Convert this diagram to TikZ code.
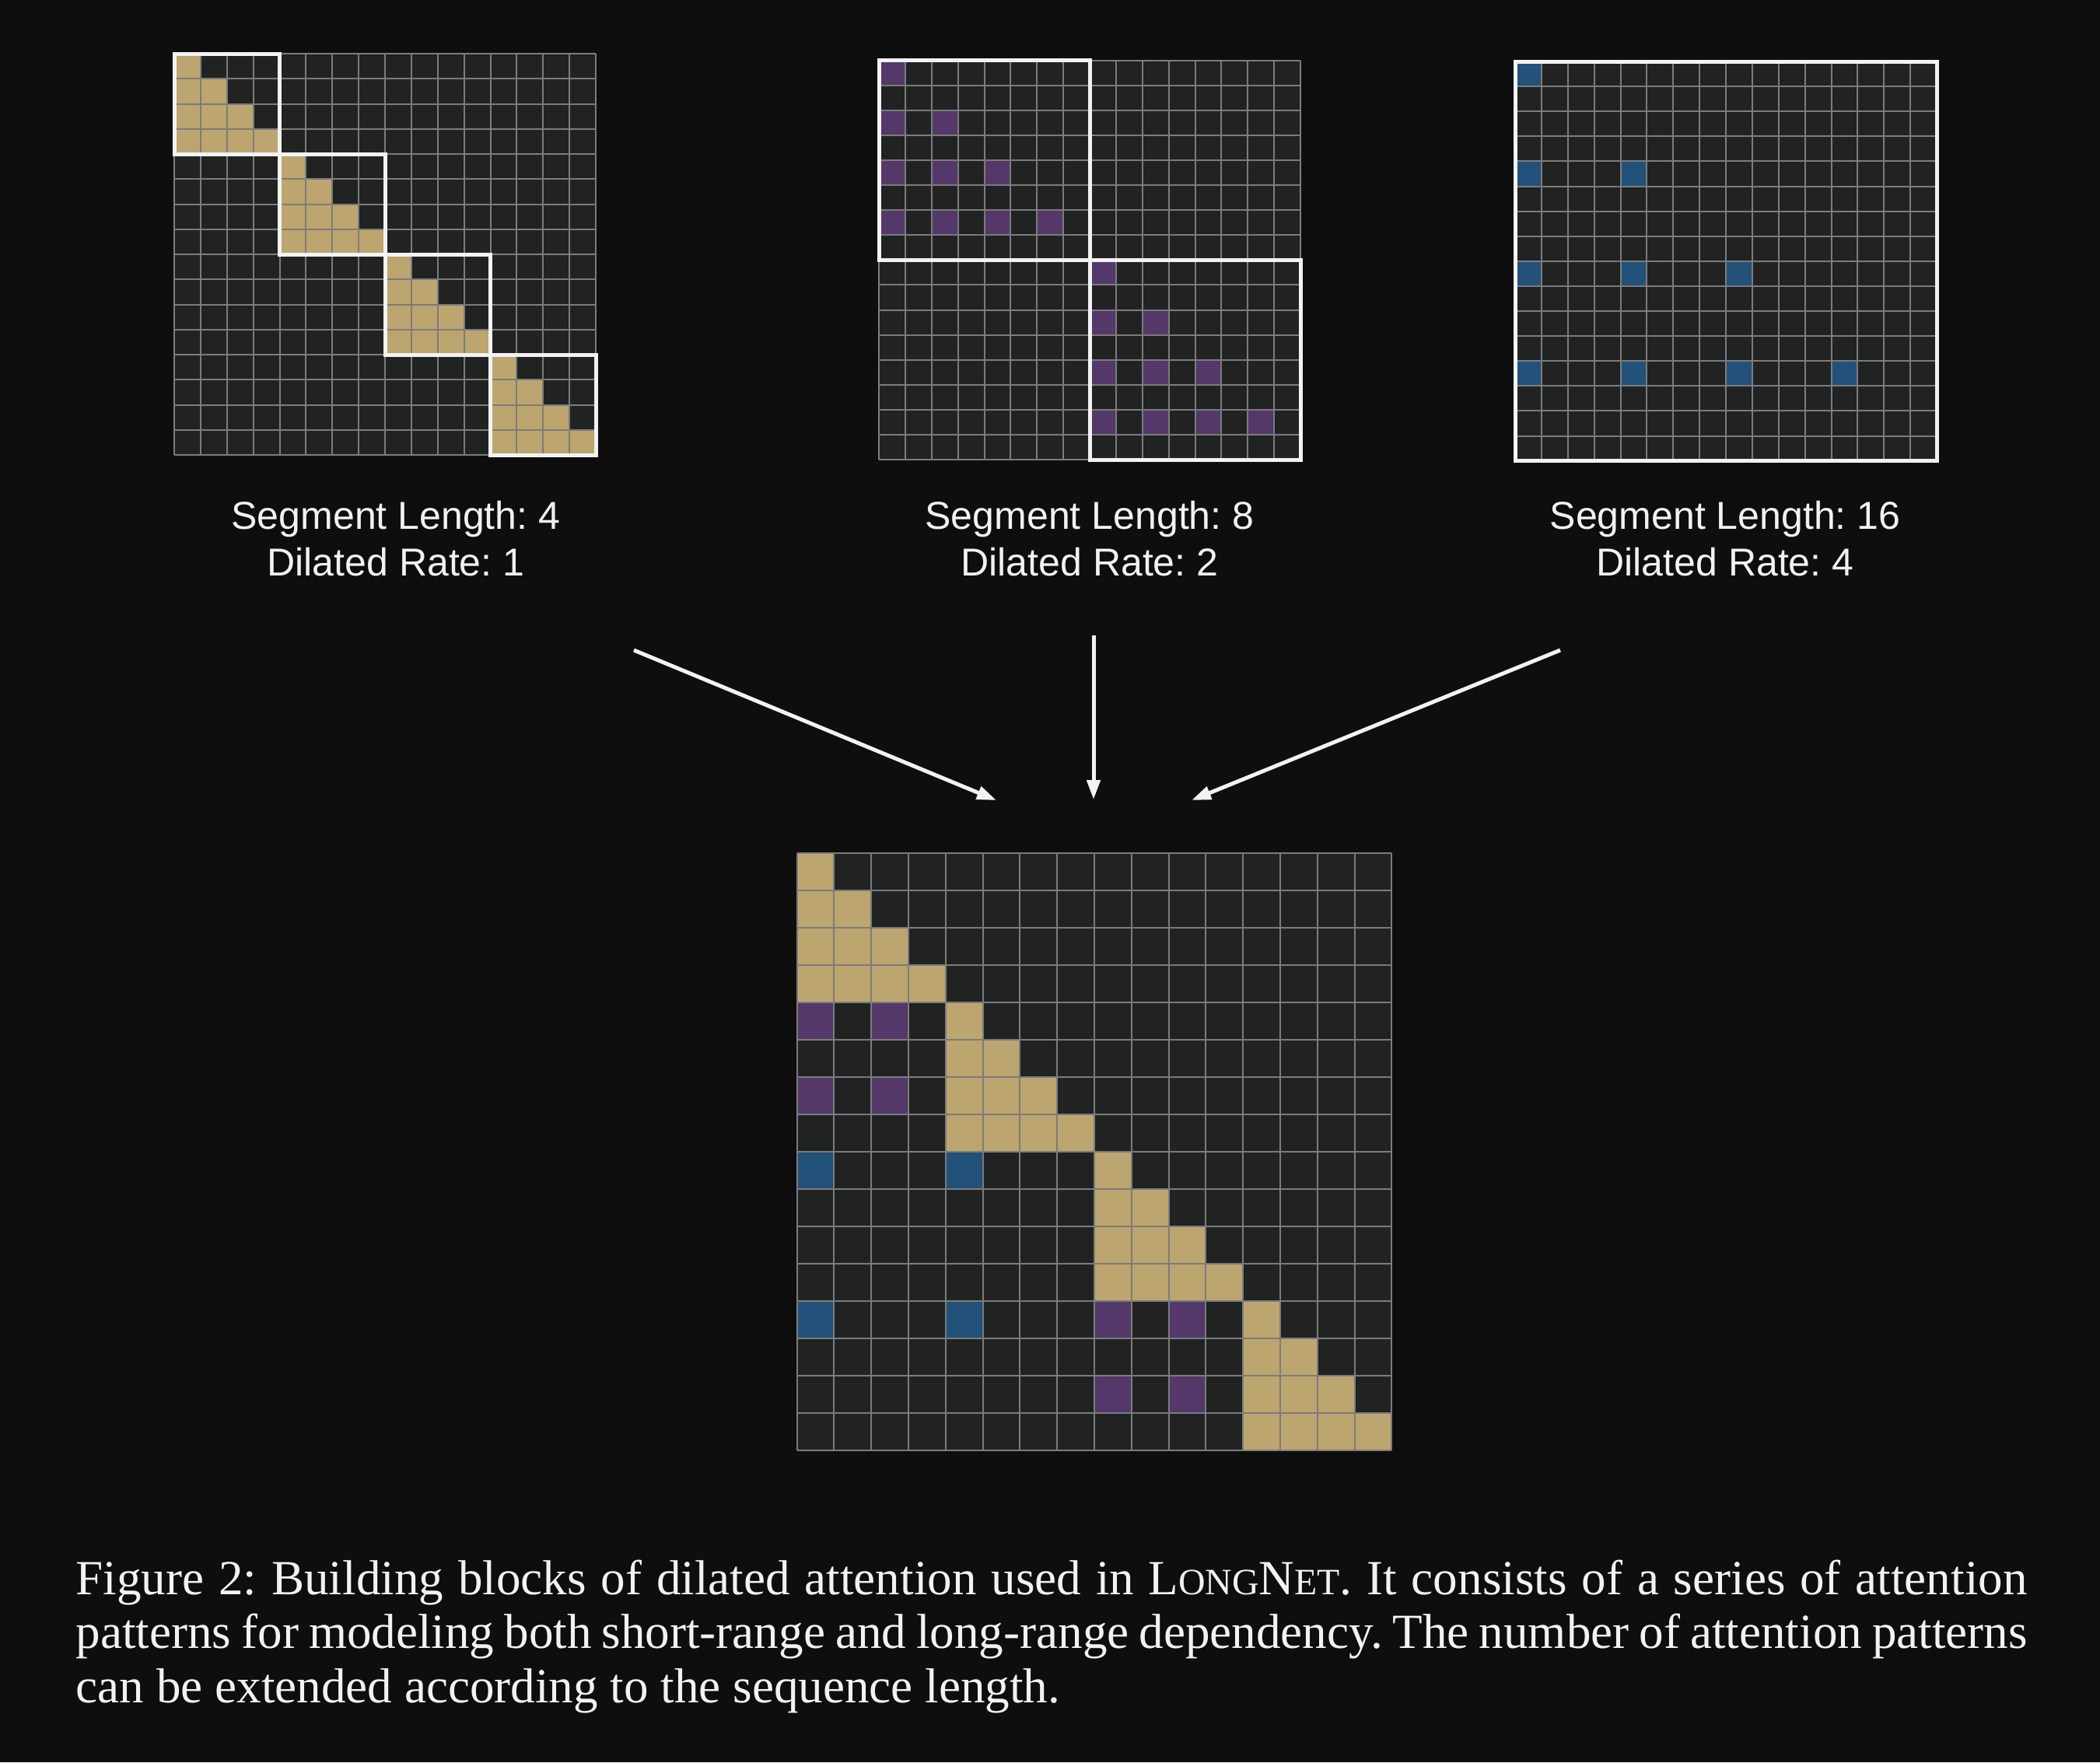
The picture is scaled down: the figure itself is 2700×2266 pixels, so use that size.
\documentclass[tikz,border=0pt]{standalone}
\usepackage{fontspec}
\setmainfont{Liberation Serif}
\newfontfamily\labelfont{Liberation Sans}
\usetikzlibrary{arrows.meta}

\definecolor{pagebg}{HTML}{0E0E0E}
\definecolor{cellbg}{HTML}{212323}
\definecolor{gridgray}{HTML}{7C7C7C}
\definecolor{tanfill}{HTML}{BDA570}
\definecolor{purplefill}{HTML}{533869}
\definecolor{bluefill}{HTML}{22517A}
\definecolor{inkwhite}{HTML}{F2F2F2}

\tikzset{
  gridline/.style={draw=gridgray, line width=0.2mm},
  segbox/.style={draw=inkwhite, line width=0.5mm},
  tancell/.style={fill=tanfill},
  purplecell/.style={fill=purplefill},
  bluecell/.style={fill=bluefill},
  patlabel/.style={text=inkwhite, font=\labelfont\fontsize{14.24pt}{17.07pt}\selectfont,
    align=center, inner sep=0pt, anchor=north},
  captiontext/.style={text=inkwhite, font=\fontsize{17.96pt}{19.75pt}\selectfont,
    text width=250.9mm, align=justify, inner sep=0pt, anchor=north west},
  mergearrow/.style={draw=inkwhite, line width=0.5mm, -{Triangle[length=2.5mm,width=1.7mm]}},
}

% 16x16 board in cell units
\newcommand{\blankboard}{\fill[cellbg] (0,0) rectangle (16,16);}
\newcommand{\boardlines}{\foreach \i in {0,...,16} {\draw[gridline] (\i,0) -- (\i,16) (0,\i) -- (16,\i);}}
% lower triangle of one 4-segment, starting at cell (#1,#1)
\newcommand{\stairblock}[1]{\fill[tancell] (#1,#1) -| ++(1,1) -| ++(1,1) -| ++(1,1) -| ++(1,1) -- ++(-4,0) -- cycle;}
\newcommand{\paintcell}[3]{\fill[#1] (#2,#3) rectangle ++(1,1);}
\newcommand{\scfake}{\fontsize{13.6pt}{13.6pt}\selectfont}

\begin{document}
\frenchspacing
\begin{tikzpicture}[x=0.1mm, y=-0.1mm]
% page
\useasboundingbox (0,0) rectangle (2700,2266);
\fill[pagebg] (0,0) rectangle (2700,2266);

% Segment length 4, dilated rate 1
\begin{scope}[shift={(224,69)}, x=3.3875mm, y=-3.225mm]
\blankboard
\stairblock{0} \stairblock{4} \stairblock{8} \stairblock{12}
\boardlines
\draw[segbox] (0,0) rectangle (4,4);
\draw[segbox] (4,4) rectangle (8,8);
\draw[segbox] (8,8) rectangle (12,12);
\draw[segbox] (12,12) rectangle (16,16);
\end{scope}

% Segment length 8, dilated rate 2
\begin{scope}[shift={(1130,77.5)}, x=3.3875mm, y=-3.21mm]
\blankboard
\paintcell{purplecell}{0}{0}
\paintcell{purplecell}{0}{2} \paintcell{purplecell}{2}{2}
\paintcell{purplecell}{0}{4} \paintcell{purplecell}{2}{4} \paintcell{purplecell}{4}{4}
\paintcell{purplecell}{0}{6} \paintcell{purplecell}{2}{6} \paintcell{purplecell}{4}{6} \paintcell{purplecell}{6}{6}
\paintcell{purplecell}{8}{8}
\paintcell{purplecell}{8}{10} \paintcell{purplecell}{10}{10}
\paintcell{purplecell}{8}{12} \paintcell{purplecell}{10}{12} \paintcell{purplecell}{12}{12}
\paintcell{purplecell}{8}{14} \paintcell{purplecell}{10}{14} \paintcell{purplecell}{12}{14} \paintcell{purplecell}{14}{14}
\boardlines
\draw[segbox] (0,0) rectangle (8,8);
\draw[segbox] (8,8) rectangle (16,16);
\end{scope}

% Segment length 16, dilated rate 4
\begin{scope}[shift={(1948,79)}, x=3.3875mm, y=-3.21mm]
\blankboard
\paintcell{bluecell}{0}{0}
\paintcell{bluecell}{0}{4} \paintcell{bluecell}{4}{4}
\paintcell{bluecell}{0}{8} \paintcell{bluecell}{4}{8} \paintcell{bluecell}{8}{8}
\paintcell{bluecell}{0}{12} \paintcell{bluecell}{4}{12} \paintcell{bluecell}{8}{12} \paintcell{bluecell}{12}{12}
\boardlines
\draw[segbox] (0,0) rectangle (16,16);
\end{scope}

% labels
\node[patlabel] (lab4) at (509,644) {Segment Length: 4\\Dilated Rate: 1};
\node[patlabel] (lab8) at (1401,644) {Segment Length: 8\\Dilated Rate: 2};
\node[patlabel] (lab16) at (2218,644) {Segment Length: 16\\Dilated Rate: 4};

% arrows into the mixed pattern
\coordinate (from4) at (815,836);
\coordinate (from8) at (1406,817);
\coordinate (from16) at (2006,836);
\coordinate (into4) at (1281,1029);
\coordinate (into8) at (1406,1028);
\coordinate (into16) at (1532,1029);
\draw[mergearrow] (from4) -- (into4);
\draw[mergearrow] (from8) -- (into8);
\draw[mergearrow] (from16) -- (into16);

% mixed pattern
\begin{scope}[shift={(1024.5,1097)}, x=4.78mm, y=-4.8mm]
\blankboard
\stairblock{0} \stairblock{4} \stairblock{8} \stairblock{12}
\paintcell{purplecell}{0}{4} \paintcell{purplecell}{2}{4}
\paintcell{purplecell}{0}{6} \paintcell{purplecell}{2}{6}
\paintcell{purplecell}{8}{12} \paintcell{purplecell}{10}{12}
\paintcell{purplecell}{8}{14} \paintcell{purplecell}{10}{14}
\paintcell{bluecell}{0}{8} \paintcell{bluecell}{4}{8}
\paintcell{bluecell}{0}{12} \paintcell{bluecell}{4}{12}
\boardlines
\end{scope}

% caption
\node[captiontext] (caption) at (97,2005) {Figure 2: Building blocks of dilated attention used in L{\scfake ONG}N{\scfake ET}. It consists of a series of attention\linebreak
patterns for modeling both short-range and long-range dependency. The number of attention patterns\linebreak
can be extended according to the sequence length.};
\end{tikzpicture}
\end{document}
